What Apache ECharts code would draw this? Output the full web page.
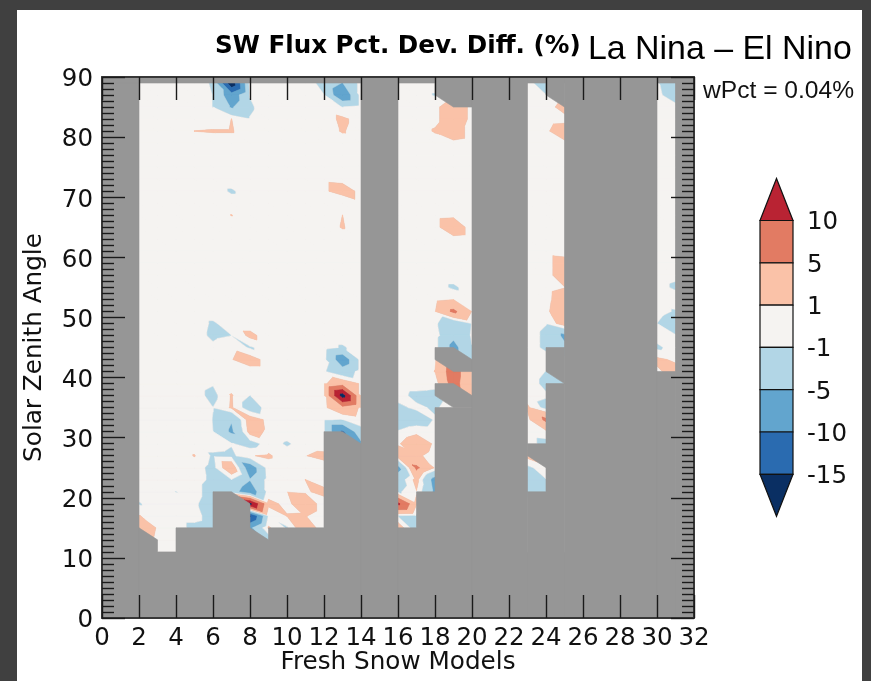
<!DOCTYPE html>
<html>
<head>
<meta charset="utf-8">
<style>
html,body{margin:0;padding:0;background:#404040;width:871px;height:681px;overflow:hidden}
#panel{position:absolute;left:17px;top:10px;width:845px;height:671px;background:#fff}
#chart{position:absolute;left:0;top:0;width:871px;height:681px}
</style>
<script src="https://cdn.jsdelivr.net/npm/echarts@6/dist/echarts.min.js"></script>
</head>
<body>
<div id="panel"></div>
<div id="chart"></div>
<script>
const titleLeft = 'SW Flux Pct. Dev. Diff. (%)';
const titleRight = 'La Nina \u2013 El Nino';
const weightLabel = 'wPct = 0.04%';
const xName = 'Fresh Snow Models';
const yName = 'Solar Zenith Angle';
const legendLabels = ['10','5','1','-1','-5','-10','-15'];
const bandEdges = [-Infinity,-15,-10,-5,-1,1,5,10,15,Infinity];
const bandColors = ['#0a2f63','#2a6bb0','#62a5ce','#b2d6e6','#f5f3f1','#fac2a8','#e27b63','#b92333','#0a2f63'];
const legendColors = ['#b92333','#e27b63','#fac2a8','#f5f3f1','#b2d6e6','#62a5ce','#2a6bb0','#0a2f63'];

// value read at [zenith, pct] per model column; everything not listed is about 0
const col2=[[15,3],[13,3],[17,1.1],[19,-1.2]];
const col3=[[15,.8],[13,.5]];
const col4=[[81,.2],[21,-1.06]];
const col5=[[81,1.02],[27,1.1],[19,-.6],[15,-1.8]];
const col6=[[89,-1.3],[87,-1.05],[85,-1.05],[81,1.15],[49,-1.3],[47,-1.5],[45,-.5],[39,-.8],[37,-1.8],[35,-.97],[33,-1.05],[31,-1],[27,-1.4],[25,-1.8],[23,-1.6],[21,-2.5],[19,-2.5],[17,-2.5],[15,-2.5]];
const col7=[[89,-19],[87,-8],[85,-5.5],[83,1.02],[81,1.15],[71,-1.3],[67,1.05],[47,-1.02],[45,.5],[43,.9],[37,1.2],[35,1.3],[33,-4.7],[31,-5.8],[29,-.8],[27,-1.6],[25,3.6],[23,-1.1],[21,-3],[19,-3]];
const col8=[[87,-.9],[85,-1.3],[83,-.9],[47,1.6],[45,-1.3],[43,2.2],[37,-1.05],[35,-2.7],[33,2.5],[31,2],[29,-2.2],[27,.9],[25,-8],[23,-4.8],[21,-8],[19,16],[17,-16],[15,-6],[13,-6]];
const col9=[[33,.4],[31,.6],[27,1.25],[25,.3],[19,1.6],[17,-.7],[15,1.3],[13,-3]];
const col10=[[29,-1.3],[21,.95],[19,.5],[17,1.1],[15,-1.3]];
const col11=[[27,.95],[23,1.02],[21,.75],[19,2.5],[17,1.15],[15,3.5]];
const col12=[[89,-1.8],[87,-.95],[73,.82],[71,.82],[43,-.2],[41,-.75],[39,.6],[37,.6],[35,.5],[33,-.95],[31,-.95],[29,-.2],[27,1.6],[21,1.6],[15,-.9]];
const col13=[[89,-5.2],[87,-9],[85,-1.05],[83,1.5],[81,1.2],[73,.73],[71,1.5],[67,1.01],[65,1.15],[45,-1.3],[43,-8],[41,-3.2],[39,3],[37,17],[35,3.5],[33,-1.05],[31,-11],[29,-9]];
const col14=[[71,.75],[69,.75],[39,.7],[37,.7],[35,.6],[31,-1.8],[29,-6]];
const col16=[[37,-.3],[35,-1.5],[33,-3],[31,-.8],[29,.7],[27,2.5],[25,-6.5],[23,-2.8],[21,-1.5],[19,11],[17,-1.2],[15,2.8]];
const col17=[[37,-1.6],[35,-.6],[33,-2.5],[31,.4],[29,3],[27,1.5],[25,5.8],[23,1.9],[21,.9],[19,1.3],[17,-1.5],[15,-3]];
const col18=[[87,-1.2],[85,.5],[83,.5],[81,1.2],[67,.45],[65,.45],[53,.3],[51,.9],[49,-.5],[43,.7],[41,1.05],[39,-.3],[37,-1.8],[35,-1.3],[33,-.8],[29,.55],[25,.76],[23,-7],[21,-6]];
const col19=[[85,2.5],[83,2.5],[81,2.5],[79,.5],[67,.62],[65,2.5],[63,.36],[55,-1.4],[53,.95],[51,5.9],[49,-3.9],[47,-4],[45,-6.5],[43,-3],[41,7.5],[39,7],[37,3]];
const col20=[[85,.5],[83,.5],[65,.12],[63,.12],[51,.9],[49,-.9],[47,-.7],[45,-1.1],[43,-1.2],[41,.9],[39,.9],[37,1.5]];
const col23=[[35,1.4],[33,.25],[27,1.8],[25,-1.6],[23,-2],[21,-2]];
const col24=[[89,-3],[87,-.9],[81,.63],[53,.1],[51,.4],[49,-.9],[47,-1.5],[45,-1.5],[41,-1.05],[39,-1.6],[37,-.7],[35,-2],[33,6],[31,.4],[29,-2],[25,.3],[23,-1.1],[21,-1.5]];
const col25=[[85,2],[83,.2],[81,2.5],[79,.5],[61,-.5],[59,2.7],[57,2.7],[55,.9],[53,3],[51,3.5],[49,2.5],[47,-6],[45,-4],[39,-1.1]];
const col30=[[89,-.8],[87,-.6],[49,-1.01],[45,-1.5],[43,1.5],[41,.6]];
const col31=[[89,-3],[87,-2],[85,-.5],[57,-.5],[55,-1.5],[53,.6],[51,-1.3],[49,-3],[47,-.8],[43,.6],[41,2]];
const columns=[[2,col2],[3,col3],[4,col4],[5,col5],[6,col6],[7,col7],[8,col8],[9,col9],[10,col10],[11,col11],[12,col12],[13,col13],[14,col14],[16,col16],[17,col17],[18,col18],[19,col19],[20,col20],[23,col23],[24,col24],[25,col25],[30,col30],[31,col31]];

// areas with no data, as outlines in [model, zenith]
const gapLeft=[[0,0],[0,90],[2,90],[2,0]];
const gapTop=[[0,89],[0,90],[32,90],[32,89]];
const gapBottomA=[[2,0],[2,15],[3,13],[3,11],[4,11],[4,15],[6,15],[6,21],[7,21],[8,19],[8,15],[9,13],[9,15],[12,15],[12,31],[13,31],[14,29],[14,0]];
const gapAB=[[14,0],[14,90],[16,90],[16,0]];
const gapBottomB=[[16,0],[16,15],[17,15],[17,21],[18,21],[18,35],[20,35],[20,0]];
const gapIslandB1=[[18,45],[19,45],[20,43],[20,41],[19,41],[18,43]];
const gapIslandB2=[[18,39],[19,39],[20,37],[20,35],[19,35],[18,37]];
const gapTopB=[[18,90],[20,90],[20,85],[19,85],[18,87]];
const gapBC=[[20,0],[20,90],[23,90],[23,0]];
const gapBottomC=[[23,0],[23,21],[24,21],[24,25],[23,27],[23,29],[24,29],[24,39],[25,39],[25,0]];
const gapIslandC=[[24,45],[25,45],[25,39],[24,41]];
const gapTopC=[[24,90],[25,90],[25,85],[24,87]];
const gapCD=[[25,0],[25,90],[30,90],[30,0]];
const gapBottomD=[[30,0],[30,41],[31,41],[31,0]];
const gapRight=[[31,0],[31,90],[32,90],[32,0]];
const gaps=[gapLeft,gapTop,gapBottomA,gapAB,gapBottomB,gapIslandB1,gapIslandB2,gapTopB,gapBC,gapBottomC,gapIslandC,gapTopC,gapCD,gapBottomD,gapRight];

const lookup={};
columns.forEach(([x,list])=>list.forEach(([y,v])=>{lookup[x+'_'+y]=v;}));
const val=(x,y)=>{const v=lookup[x+'_'+y];return v===undefined?0:v;};

function clip(poly,level,keepAbove){
  const out=[];
  for(let i=0;i<poly.length;i++){
    const a=poly[i],b=poly[(i+1)%poly.length];
    const ina=keepAbove?a[2]>=level:a[2]<=level;
    const inb=keepAbove?b[2]>=level:b[2]<=level;
    if(ina)out.push(a);
    if(ina!==inb){
      const t=(level-a[2])/(b[2]-a[2]);
      out.push([a[0]+t*(b[0]-a[0]),a[1]+t*(b[1]-a[1]),level]);
    }
  }
  return out;
}
// each grid cell is two triangles split along its top-left to bottom-right diagonal
function bandPath(lo,hi,api){
  let d='';
  const emit=(p)=>{
    if(isFinite(lo))p=clip(p,lo,true);
    if(p.length&&isFinite(hi))p=clip(p,hi,false);
    if(p.length<3)return;
    p.forEach((q,i)=>{
      const s=api.coord([q[0],q[1]]);
      d+=(i?'L':'M')+s[0].toFixed(2)+' '+s[1].toFixed(2);
    });
    d+='Z';
  };
  for(let x=2;x<31;x++){
    for(let y=11;y<89;y+=2){
      const a=[x,y,val(x,y)],b=[x+1,y,val(x+1,y)],c=[x+1,y+2,val(x+1,y+2)],e=[x,y+2,val(x,y+2)];
      emit([a,b,e]);
      emit([b,c,e]);
    }
  }
  return d;
}

const chart=echarts.init(document.getElementById('chart'),null,{renderer:'canvas'});
const font='DejaVu Sans';
const tickLine={color:'#1a1a1a',width:1.4};
const axisLine={show:true,onZero:false,lineStyle:{color:'#383838',width:2}};

// colour bar, drawn from legendColors / legendLabels
const cbL=760,cbR=793,cbTop=220.5,cbStep=42.3,cbTip=42;
const bar=[];
bar.push({type:'polygon',shape:{points:[[cbL,cbTop],[(cbL+cbR)/2,cbTop-cbTip],[cbR,cbTop]]},style:{fill:legendColors[0],stroke:'#111',lineWidth:1.2}});
for(let i=1;i<7;i++){
  bar.push({type:'rect',shape:{x:cbL,y:cbTop+(i-1)*cbStep,width:cbR-cbL,height:cbStep},style:{fill:legendColors[i],stroke:'#111',lineWidth:1.2}});
}
const cbBot=cbTop+6*cbStep;
bar.push({type:'polygon',shape:{points:[[cbL,cbBot],[(cbL+cbR)/2,cbBot+cbTip],[cbR,cbBot]]},style:{fill:legendColors[7],stroke:'#111',lineWidth:1.2}});
legendLabels.forEach((t,i)=>{
  bar.push({type:'text',x:807,y:cbTop+i*cbStep+2.5,style:{text:t,font:'24.5px "DejaVu Sans"',fill:'#111',verticalAlign:'middle'}});
});
bar.push({type:'text',x:215,y:47,style:{text:titleLeft,font:'bold 24.6px "DejaVu Sans"',fill:'#000',verticalAlign:'middle'}});
bar.push({type:'text',x:588,y:50,style:{text:titleRight,font:'33.9px "Liberation Sans"',fill:'#000',verticalAlign:'middle'}});
bar.push({type:'text',x:703,y:91,style:{text:weightLabel,font:'24.6px "Liberation Sans"',fill:'#111',verticalAlign:'middle'}});

chart.setOption({
  animation:false,
  backgroundColor:'transparent',
  grid:{show:true,left:102,top:77,width:592,height:541,backgroundColor:'#969696',borderWidth:0,containLabel:false,outerBoundsMode:'none'},
  graphic:{elements:bar},
  xAxis:[
    {type:'value',min:0,max:32,interval:2,position:'bottom',z:10,name:xName,nameLocation:'middle',nameGap:32,nameMoveOverlap:false,
      nameTextStyle:{fontFamily:font,fontSize:24.7,color:'#111',verticalAlign:'top'},
      axisLine,axisTick:{show:true,inside:true,length:23,lineStyle:tickLine},minorTick:{show:false},splitLine:{show:false},
      axisLabel:{show:true,fontFamily:font,fontSize:24.5,color:'#111',margin:8,showMinLabel:true,showMaxLabel:true}},
    {type:'value',min:0,max:32,interval:2,position:'top',z:10,
      axisLine,axisTick:{show:true,inside:true,length:23,lineStyle:tickLine},splitLine:{show:false},axisLabel:{show:false}}
  ],
  yAxis:[
    {type:'value',min:0,max:90,interval:10,position:'left',z:10,name:yName,nameLocation:'middle',nameGap:55,nameRotate:90,
      nameTextStyle:{fontFamily:font,fontSize:24.7,color:'#111'},
      axisLine,axisTick:{show:true,inside:true,length:23,lineStyle:tickLine},
      minorTick:{show:true,splitNumber:10,length:12,lineStyle:tickLine},splitLine:{show:false},minorSplitLine:{show:false},
      axisLabel:{show:true,fontFamily:font,fontSize:24.5,color:'#111',margin:9,verticalAlign:'top',lineHeight:6,showMinLabel:true,showMaxLabel:true}},
    {type:'value',min:0,max:90,interval:10,position:'right',z:10,
      axisLine,axisTick:{show:true,inside:true,length:23,lineStyle:tickLine},
      minorTick:{show:true,splitNumber:10,length:12,lineStyle:tickLine},splitLine:{show:false},minorSplitLine:{show:false},
      axisLabel:{show:false}}
  ],
  series:[
    {type:'custom',coordinateSystem:'cartesian2d',xAxisIndex:0,yAxisIndex:0,z:2,silent:true,clip:true,
      data:bandColors.map((c,i)=>[i,0]),encode:{x:0,y:1},
      renderItem:(params,api)=>{
        const i=api.value(0);
        return {type:'path',shape:{pathData:bandPath(bandEdges[i],bandEdges[i+1],api)},style:{fill:bandColors[i],stroke:bandColors[i],lineWidth:.5}};
      }},
    {type:'custom',coordinateSystem:'cartesian2d',xAxisIndex:0,yAxisIndex:0,z:3,silent:true,clip:true,
      data:gaps.map((g,i)=>[i,0]),encode:{x:0,y:1},
      renderItem:(params,api)=>{
        const g=gaps[api.value(0)];
        return {type:'polygon',shape:{points:g.map(p=>api.coord(p))},style:{fill:'#969696',stroke:'#969696',lineWidth:.6}};
      }}
  ]
});
</script>
</body>
</html>
